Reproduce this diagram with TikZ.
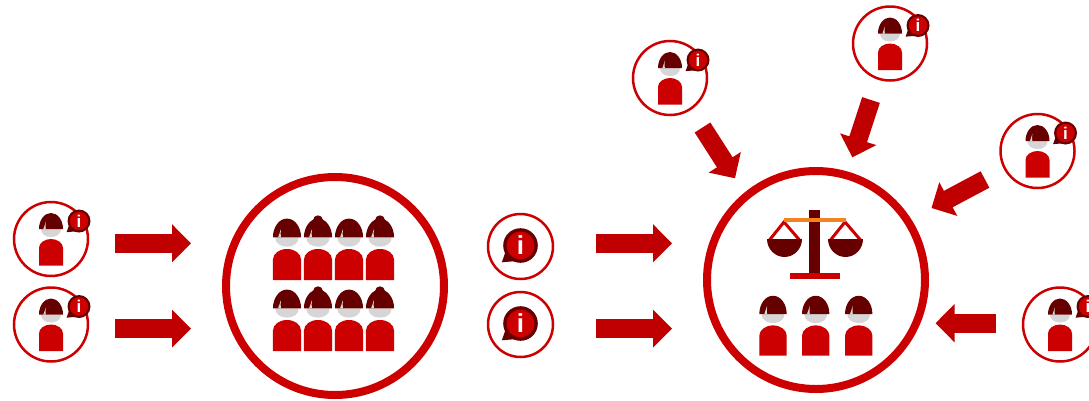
\documentclass[tikz,border=0pt]{standalone}
\usepackage{fontspec}
\setmainfont{Liberation Sans}
\usetikzlibrary{arrows.meta}
\definecolor{ringred}{HTML}{CC0000}
\definecolor{arrowred}{HTML}{C00000}
\definecolor{hairdark}{HTML}{660000}
\definecolor{facegray}{HTML}{D6D6D6}
\definecolor{beamorange}{HTML}{F58220}
\tikzset{
  ring/.style={circle,draw=ringred,fill=white,inner sep=0pt,outer sep=0pt,line width=2.5pt,minimum size=74pt},
  bigring/.style={ring,line width=8pt,minimum size=218pt},
  inforing/.style={ring,minimum size=65pt},
  blockarrow/.style={draw=arrowred,line width=18.6pt,-{Triangle[length=19pt,width=37pt,fill=arrowred]}},
  infotext/.style={text=white,inner sep=0pt,font=\bfseries}
}
% person: #1 x, #2 y (hair base centre), #3 scale
\newcommand{\personfig}[3]{%
  \begin{scope}[shift={(#1,#2)},scale=#3]
    \fill[facegray] (-10,0) .. controls (-10,5) and (-5.5,8) .. (0,8) .. controls (5.5,8) and (10,5) .. (10,0) -- cycle;
    \fill[hairdark] (-12,0) .. controls (-12,-9) and (-6.6,-16) .. (0,-16) .. controls (6.6,-16) and (12,-9) .. (12,0) -- cycle;
    \fill[facegray] (-7.6,0) .. controls (-6.6,-2.5) and (-6,-5) .. (-5.2,-7) .. controls (-5.6,-4) and (-5.4,-2) .. (-5.2,0) -- cycle;
    \fill[ringred] (-12,36.5) -- (-12,19) .. controls (-12,14) and (-6.6,10) .. (0,10) .. controls (6.6,10) and (12,14) .. (12,19) -- (12,36.5) -- cycle;
  \end{scope}}
% bun on top of the hair
\newcommand{\bunfig}[3]{\fill[hairdark] (#1,#2) circle[radius=#3];}
% speech badge: #1 name, #2 x, #3 y, #4 radius, #5 font size
\newcommand{\badgefig}[5]{%
  \begin{scope}[shift={(#2,#3)},scale=#4]
    \fill[hairdark] (-1.08,0.97) -- (-0.86,0.35) -- (-0.25,0.9) -- cycle;
    \fill[hairdark] (0,0) circle[radius=1];
    \fill[ringred] (0,0) circle[radius=0.8];
  \end{scope}
  \node[infotext,font=\fontsize{#5}{#5}\selectfont\bfseries] (#1) at (#2,#3) {i};}
% person ring with badge
\newcommand{\ringperson}[3]{%
  \node[ring] (#1) at (#2,#3) {};
  \personfig{#2}{#3-10}{1}
  \badgefig{#1b}{#2+28}{#3-18}{11.5}{17}}
\begin{document}
\begin{tikzpicture}[x=1pt,y=-1pt]
\clip (0,0) rectangle (1089,400);
\fill[white] (0,0) rectangle (1089,400);

% left rings
\ringperson{pa}{51}{239}
\ringperson{pb}{51}{324.5}
% right rings
\ringperson{pc}{670}{78}
\ringperson{pd}{890}{43.5}
\ringperson{pe}{1037.5}{151}
\ringperson{pf}{1060}{324.5}

% big rings
\node[bigring] (crowd) at (335,286) {};
\node[bigring] (court) at (816,280) {};

% crowd
\foreach \rowy in {237.3,308.3}{
  \foreach \cx/\hasbun in {287/0,318/1,349/0,380/1}{
    \ifnum\hasbun=1 \bunfig{\cx}{\rowy-17}{5}\fi
    \personfig{\cx}{\rowy}{1.17}
  }
}

% info rings
\node[inforing] (ia) at (520.5,246.5) {};
\node[inforing] (ib) at (520.5,324.5) {};
\badgefig{iab}{520.5}{245.5}{17.3}{26}
\badgefig{ibb}{520.5}{323.5}{17.3}{26}

% scales
\fill[hairdark] (809,210) rectangle (820,273);
\fill[ringred] (790,273) rectangle (840,279);
\draw[ringred,line width=3pt,line join=miter] (769.5,240) -- (784,222) -- (799.5,240);
\draw[ringred,line width=3pt,line join=miter] (830.5,240) -- (845,222) -- (860.5,240);
\fill[hairdark] (767,239) .. controls (767,249) and (775,257) .. (784.5,257) .. controls (794,257) and (802,249) .. (802,239) -- cycle;
\fill[hairdark] (828,239) .. controls (828,249) and (836,257) .. (845.5,257) .. controls (855,257) and (863,249) .. (863,239) -- cycle;
\fill[beamorange] (784,218) rectangle (846,222);
% jury
\personfig{773}{314}{1.14}
\personfig{815.7}{314}{1.14}
\personfig{858.7}{314}{1.14}

% arrows
\coordinate (t1) at (115,243.3);   \coordinate (h1) at (191,243.3);
\coordinate (t2) at (115,328.6);   \coordinate (h2) at (191,328.6);
\coordinate (t3) at (596,243.3);   \coordinate (h3) at (672,243.3);
\coordinate (t4) at (596,328.6);   \coordinate (h4) at (672,328.6);
\coordinate (t5) at (702.5,127.5); \coordinate (h5) at (735,178.3);
\coordinate (t6) at (871,100);     \coordinate (h6) at (852.3,157.3);
\coordinate (t7) at (985,179.5);   \coordinate (h7) at (931.5,208);
\coordinate (t8) at (996,323.2);   \coordinate (h8) at (935.5,323.2);
\foreach \i in {1,...,8}{\draw[blockarrow] (t\i) -- (h\i);}
\end{tikzpicture}
\end{document}
